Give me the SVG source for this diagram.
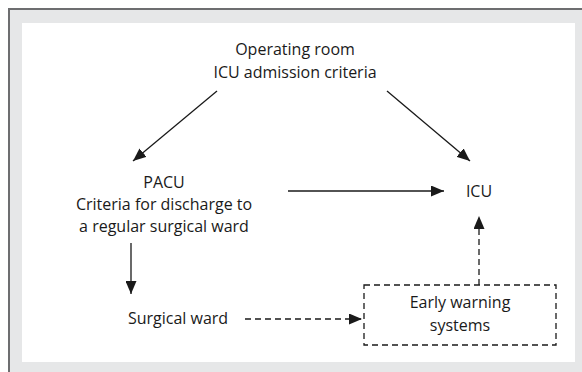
<svg xmlns="http://www.w3.org/2000/svg" width="582" height="372" viewBox="0 0 582 372">
<defs>
<style>
text{font-family:"Open Sans","Noto Sans",sans-serif;font-size:16px;fill:#1a1a1a;text-anchor:middle}
.ln{stroke:#1a1a1a;stroke-width:1.3;fill:none}
.ds{stroke:#1a1a1a;stroke-width:1.3;fill:none;stroke-dasharray:6,4}
</style>
<marker id="ah" viewBox="0 0 13 11" refX="13" refY="5.5" markerWidth="13" markerHeight="11" markerUnits="userSpaceOnUse" orient="auto">
<path d="M0,0 L13,5.5 L0,11 Z" fill="#1a1a1a"/>
</marker>
</defs>
<rect x="9" y="9" width="573" height="363" fill="#e6e7e8"/>
<path d="M9,372 V9 H582" stroke="#6d6e70" stroke-width="2" fill="none"/>
<rect x="22" y="23" width="553" height="339" fill="#ffffff"/>
<g id="connectors">
<line class="ln" x1="217" y1="91" x2="133" y2="161" marker-end="url(#ah)"/>
<line class="ln" x1="387" y1="91" x2="470" y2="161" marker-end="url(#ah)"/>
<line class="ln" x1="288" y1="191" x2="444" y2="191" marker-end="url(#ah)"/>
<line class="ln" x1="131" y1="243" x2="131" y2="294" marker-end="url(#ah)"/>
<line class="ds" x1="245" y1="319" x2="362" y2="319" marker-end="url(#ah)"/>
<line class="ds" x1="479" y1="285" x2="479" y2="216" marker-end="url(#ah)"/>
</g>
<g id="operating-room">
<text x="295" y="55">Operating room</text>
<text x="295" y="78">ICU admission criteria</text>
</g>
<g id="pacu">
<text x="164" y="188">PACU</text>
<text x="164" y="210">Criteria for discharge to</text>
<text x="164" y="232">a regular surgical ward</text>
</g>
<g id="icu">
<text x="479" y="197">ICU</text>
</g>
<g id="surgical-ward">
<text x="178" y="324">Surgical ward</text>
</g>
<g id="early-warning">
<rect class="ds" x="364" y="285" width="192" height="60"/>
<text x="460" y="308">Early warning</text>
<text x="460" y="331">systems</text>
</g>
</svg>
